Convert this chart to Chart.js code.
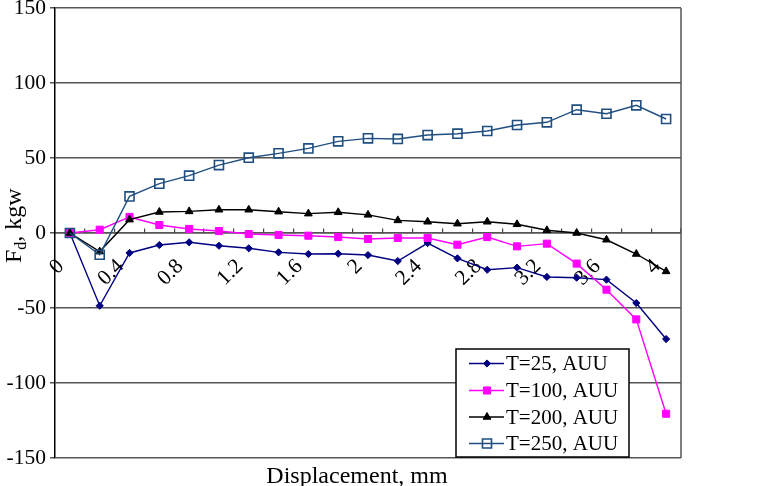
<!DOCTYPE html>
<html>
<head>
<meta charset="utf-8">
<script src="https://cdn.jsdelivr.net/npm/chart.js@4.4.0/dist/chart.umd.min.js"></script>
<style>
html,body{margin:0;padding:0;background:#fff;}
#wrap{position:relative;width:776px;height:486px;}
</style>
</head>
<body>
<div id="wrap"><canvas id="c" width="776" height="486"></canvas></div>
<script>
// ---- data ----
const displacement = ['0','0.2','0.4','0.6','0.8','1','1.2','1.4','1.6','1.8','2','2.2','2.4','2.6','2.8','3','3.2','3.4','3.6','3.8','4'];
const t25  = [0,-48.5,-13.3,-8,-6.2,-8.5,-10.2,-12.9,-14,-13.8,-14.7,-18.7,-6.7,-16.9,-24.5,-23.1,-29.3,-29.8,-31.1,-46.7,-70.7];
const t100 = [0,2.2,10.7,5.3,2.7,1.3,-0.7,-1.3,-1.8,-2.7,-4,-3.3,-3.3,-7.8,-2.7,-8.9,-7.1,-20.4,-37.8,-57.6,-120.5];
const t200 = [0,-12.4,8.9,14,14.4,15.5,15.5,14.2,12.9,13.8,12.1,8.4,7.5,6.2,7.5,5.8,1.8,0,-4.5,-14,-25.6];
const t250 = [0,-14.5,24.4,32.9,38.2,45.3,50.2,53.1,56.4,61.1,63.1,62.7,65.3,66.2,68,72,73.8,82.2,79.5,85.1,76];
const seriesNames = ['T=25, AUU','T=100, AUU','T=200, AUU','T=250, AUU'];
const yMin = -150, yMax = 150, yStep = 50;
const xTitle = 'Displacement, mm';
const yTitleMain = 'F', yTitleSub = 'd', yTitleRest = ', kgw';

const FONT = 'Liberation Serif, Times New Roman, serif';

function drawMarker(ctx, style, r, x, y, fill, stroke, bw) {
  ctx.save();
  ctx.beginPath();
  if (style === 'rect') {
    const s = Math.SQRT1_2 * r;
    ctx.rect(x - s, y - s, 2 * s, 2 * s);
  } else if (style === 'rectRot') {
    ctx.moveTo(x, y - r); ctx.lineTo(x + r, y); ctx.lineTo(x, y + r); ctx.lineTo(x - r, y); ctx.closePath();
  } else if (style === 'triangle') {
    ctx.moveTo(x, y - r); ctx.lineTo(x + Math.sin(Math.PI/3) * r, y + r/2); ctx.lineTo(x - Math.sin(Math.PI/3) * r, y + r/2); ctx.closePath();
  }
  if (fill && fill !== 'transparent') { ctx.fillStyle = fill; ctx.fill(); }
  ctx.lineWidth = bw; ctx.strokeStyle = stroke; ctx.stroke();
  ctx.restore();
}

const decorPlugin = {
  id: 'decor',
  afterDraw(chart) {
    const ctx = chart.ctx;
    const ca = chart.chartArea;
    // right frame line
    ctx.save();
    ctx.strokeStyle = '#555';
    ctx.lineWidth = 1.5;
    ctx.beginPath();
    ctx.moveTo(ca.right, ca.top); ctx.lineTo(ca.right, ca.bottom);
    ctx.stroke();
    ctx.restore();

    // legend
    const lx = 456, ly = 349, lw = 173, lh = 108;
    ctx.save();
    ctx.fillStyle = '#fff';
    ctx.fillRect(lx, ly, lw, lh);
    ctx.strokeStyle = '#000';
    ctx.lineWidth = 1.5;
    ctx.strokeRect(lx, ly, lw, lh);
    const rows = [363.5, 390.5, 417, 443.5];
    chart.data.datasets.forEach((ds, i) => {
      const yy = rows[i];
      ctx.strokeStyle = ds.borderColor;
      ctx.lineWidth = ds.borderWidth;
      ctx.beginPath(); ctx.moveTo(469, yy); ctx.lineTo(504, yy); ctx.stroke();
      drawMarker(ctx, ds.pointStyle, ds.pointRadius, 487, yy, ds.pointBackgroundColor, ds.pointBorderColor, ds.pointBorderWidth);
      ctx.fillStyle = '#000';
      ctx.font = '21px ' + FONT;
      ctx.textBaseline = 'middle';
      ctx.textAlign = 'left';
      ctx.fillText(ds.label, 506, yy + 1);
    });
    ctx.restore();

    // axis titles
    ctx.save();
    ctx.fillStyle = '#000';
    ctx.font = '24px ' + FONT;
    ctx.textAlign = 'center';
    ctx.textBaseline = 'alphabetic';
    ctx.fillText(xTitle, 357, 483);
    ctx.restore();

    ctx.save();
    ctx.fillStyle = '#000';
    ctx.translate(21, 263);
    ctx.rotate(-Math.PI / 2);
    ctx.textAlign = 'left';
    ctx.textBaseline = 'alphabetic';
    ctx.font = '24px ' + FONT;
    ctx.fillText(yTitleMain, 0, 0);
    let w = ctx.measureText(yTitleMain).width;
    ctx.font = '16px ' + FONT;
    ctx.fillText(yTitleSub, w, 5);
    w += ctx.measureText(yTitleSub).width;
    ctx.font = '24px ' + FONT;
    ctx.fillText(yTitleRest, w, 0);
    ctx.restore();
  }
};

const series = [
  {data: t25,  color: '#000080', style: 'rectRot', r: 3.6, fill: '#000080', order: 4},
  {data: t100, color: '#FF00FF', style: 'rect', r: 5, fill: '#FF00FF', order: 3},
  {data: t200, color: '#000000', style: 'triangle', r: 4.5, fill: '#000000', order: 2},
  {data: t250, color: '#1F4E80', style: 'rect', r: 6.4, fill: 'transparent', order: 1}
];

const datasets = series.map((s, i) => ({
  label: seriesNames[i],
  data: s.data,
  borderColor: s.color,
  backgroundColor: s.color,
  borderWidth: 1.4,
  pointStyle: s.style,
  pointRadius: s.r,
  pointHoverRadius: s.r,
  pointBackgroundColor: s.fill,
  pointBorderColor: s.color,
  pointBorderWidth: s.style === 'rect' && s.fill === 'transparent' ? 1.6 : 1,
  tension: 0,
  fill: false,
  order: s.order,
  xAxisID: 'x',
  yAxisID: 'y'
}));

new Chart(document.getElementById('c'), {
  type: 'line',
  data: { labels: displacement, datasets },
  options: {
    responsive: false,
    animation: false,
    devicePixelRatio: 1,
    layout: { padding: { top: 7.5, right: 95, bottom: 0, left: 0 } },
    plugins: { legend: { display: false }, tooltip: { enabled: false } },
    scales: {
      x: {
        type: 'category',
        position: { y: 0 },
        offset: true,
        grid: { display: true, drawOnChartArea: false, drawTicks: true, tickLength: -5, offset: true, color: '#444', lineWidth: 1.2 },
        border: { display: true, color: '#555', width: 1.5 },
        ticks: {
          autoSkip: false, maxRotation: 45, minRotation: 45, padding: 26, labelOffset: -9, color: '#000',
          font: { family: FONT, size: 21.5 },
          callback: (v, i) => (i % 2 === 0 ? displacement[i] : '')
        },
        afterFit: s => { s.paddingLeft = 0; s.paddingRight = 0; }
      },
      x2: {
        type: 'category',
        labels: displacement,
        position: 'bottom',
        offset: true,
        grid: { display: false },
        border: { display: false },
        ticks: { display: false },
        afterFit: s => { s.height = 28; s.paddingLeft = 0; s.paddingRight = 0; }
      },
      y: {
        min: yMin, max: yMax,
        ticks: { stepSize: yStep, padding: 4, color: '#000', font: { family: FONT, size: 21.5 } },
        grid: { color: '#555', lineWidth: 1.5, tickLength: 5 },
        border: { display: true, color: '#000', width: 1.5 },
        afterFit: s => { s.width = 55; s.paddingTop = 0; s.paddingBottom = 0; }
      }
    }
  },
  plugins: [decorPlugin]
});
</script>
</body>
</html>
